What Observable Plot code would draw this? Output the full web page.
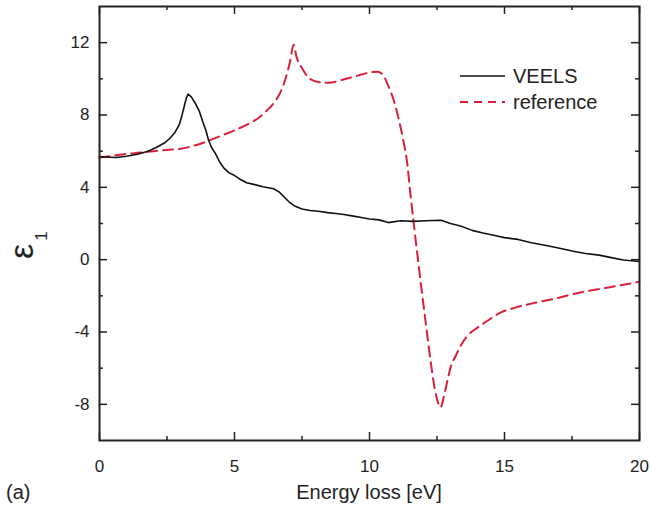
<!DOCTYPE html>
<html><head><meta charset="utf-8">
<script src="https://cdn.jsdelivr.net/npm/d3@7"></script>
<script src="https://cdn.jsdelivr.net/npm/@observablehq/plot@0.6"></script>
<style>body{margin:0;background:#fff} svg{display:block}</style>
</head><body><div id="chart"></div>
<script>
// VEELS (solid black)
const veelsX = [0, 0.2, 0.6, 1.0, 1.4, 1.8, 2.1, 2.4, 2.6, 2.8, 2.95, 3.05, 3.15, 3.22, 3.28, 3.4, 3.56, 3.7, 3.81, 3.95, 4.04, 4.15, 4.3, 4.45, 4.6, 4.8, 4.95, 5.2, 5.45, 5.75, 6.05, 6.45, 6.65, 6.85, 7.05, 7.25, 7.5, 7.8, 8.1, 8.45, 8.75, 9.05, 9.35, 9.7, 10.0, 10.35, 10.7, 11.15, 11.6, 12.1, 12.65, 13.0, 13.4, 13.8, 14.2, 14.6, 15.0, 15.5, 16.0, 16.5, 17.0, 17.5, 18.0, 18.5, 19.0, 19.4, 19.7, 20.0];
const veelsY = [5.7, 5.68, 5.65, 5.72, 5.83, 6.0, 6.2, 6.45, 6.7, 7.05, 7.45, 7.95, 8.55, 8.95, 9.15, 9.0, 8.62, 8.2, 7.7, 7.1, 6.6, 6.2, 5.85, 5.4, 5.08, 4.8, 4.7, 4.45, 4.25, 4.15, 4.03, 3.92, 3.75, 3.45, 3.15, 2.95, 2.8, 2.72, 2.68, 2.6, 2.55, 2.5, 2.42, 2.33, 2.25, 2.2, 2.05, 2.15, 2.12, 2.15, 2.18, 2.0, 1.85, 1.62, 1.47, 1.35, 1.22, 1.12, 0.94, 0.8, 0.65, 0.48, 0.34, 0.25, 0.1, -0.02, -0.06, -0.1];
// reference (red dashed)
const refX = [0, 0.5, 1.0, 1.5, 2.0, 2.5, 3.0, 3.5, 4.0, 4.5, 5.0, 5.5, 5.9, 6.2, 6.5, 6.7, 6.9, 7.05, 7.19, 7.3, 7.5, 7.75, 8.1, 8.5, 9.0, 9.5, 10.0, 10.3, 10.5, 10.7, 10.9, 11.07, 11.25, 11.4, 11.5, 11.65, 11.8, 11.95, 12.1, 12.26, 12.4, 12.55, 12.63, 12.75, 12.9, 13.0, 13.2, 13.4, 13.7, 14.0, 14.4, 14.85, 15.4, 16.0, 16.8, 17.8, 18.8, 20.0];
const refY = [5.65, 5.75, 5.85, 5.92, 6.0, 6.07, 6.13, 6.3, 6.55, 6.85, 7.15, 7.5, 7.85, 8.25, 8.75, 9.25, 10.06, 10.9, 11.88, 11.2, 10.6, 10.06, 9.83, 9.78, 9.95, 10.15, 10.35, 10.39, 10.2, 9.6, 8.8, 7.85, 6.6, 5.3, 3.85, 1.85, -0.05, -1.9, -3.7, -5.58, -7.0, -7.95, -8.18, -7.6, -6.6, -5.97, -5.3, -4.7, -4.1, -3.76, -3.35, -2.93, -2.65, -2.43, -2.18, -1.82, -1.55, -1.22];
// ticks
const xMajor = [0, 5, 10, 15, 20];
const xMinor = [2.5, 7.5, 12.5, 17.5];
const yMajor = [-8, -4, 0, 4, 8, 12];
const yMinor = [-6, -2, 2, 6, 10];
const seriesNames = ["VEELS", "reference"];

const W = 650, H = 508, mL = 99, mR = 11, mT = 6, mB = 68;
const innerW = W - mL - mR, innerH = H - mT - mB;
const font = "'Liberation Sans', Arial, Helvetica, sans-serif";
const RED = "#d8203a", INK = "#222";

const veels = veelsX.map((x, i) => ({x, y: veelsY[i]}));
const ref = refX.map((x, i) => ({x, y: refY[i]}));

const tk = {stroke: INK, strokeWidth: 1.5};
const fmt = d => String(d);
const chart = Plot.plot({
  width: W, height: H,
  marginLeft: mL, marginRight: mR, marginTop: mT, marginBottom: mB,
  style: {fontFamily: font, background: "#fff", color: INK},
  x: {domain: [0, 20]},
  y: {domain: [-10, 14]},
  marks: [
    Plot.line(ref, {x: "x", y: "y", stroke: RED, strokeWidth: 2, strokeDasharray: "10,6", curve: "monotone-x"}),
    Plot.line(veels, {x: "x", y: "y", stroke: "#111", strokeWidth: 1.6}),
    Plot.tickX(xMajor, {x: d => d, insetTop: innerH - 8, ...tk}),
    Plot.tickX(xMajor, {x: d => d, insetBottom: innerH - 8, ...tk}),
    Plot.tickX(xMinor, {x: d => d, insetTop: innerH - 4, ...tk}),
    Plot.tickX(xMinor, {x: d => d, insetBottom: innerH - 4, ...tk}),
    Plot.tickY(yMajor, {y: d => d, insetRight: innerW - 8, ...tk}),
    Plot.tickY(yMajor, {y: d => d, insetLeft: innerW - 8, ...tk}),
    Plot.tickY(yMinor, {y: d => d, insetRight: innerW - 4, ...tk}),
    Plot.tickY(yMinor, {y: d => d, insetLeft: innerW - 4, ...tk}),
    Plot.axisX(xMajor, {tickSize: 0, tickPadding: 19, fontSize: 17, label: null, fill: INK, tickFormat: fmt}),
    Plot.axisY(yMajor, {tickSize: 0, tickPadding: 10, fontSize: 17, label: null, fill: INK, tickFormat: fmt}),
    Plot.frame({stroke: INK, strokeWidth: 2})
  ]
});

const svg = d3.select(chart);
// x title
svg.append("text").attr("x", mL + innerW / 2).attr("y", 499)
  .attr("text-anchor", "middle").attr("font-size", 20).attr("fill", INK)
  .attr("font-family", font).text("Energy loss [eV]");
// panel label
svg.append("text").attr("x", 6).attr("y", 499).attr("text-anchor", "start")
  .attr("font-size", 20).attr("fill", INK).attr("font-family", font).text("(a)");
// y title epsilon_1
const yt = svg.append("text").attr("transform", "translate(33,259) rotate(-90)")
  .attr("text-anchor", "start")
  .attr("font-size", 34).attr("fill", INK).attr("font-family", font);
yt.append("tspan").text("ε");
yt.append("tspan").attr("font-size", 17).attr("dy", 14).attr("dx", 3).text("1");
// legend
const lg = svg.append("g").attr("font-family", font).attr("font-size", 20).attr("fill", INK)
  .attr("text-anchor", "start");
lg.append("line").attr("x1", 460).attr("x2", 505).attr("y1", 76).attr("y2", 76)
  .attr("stroke", "#111").attr("stroke-width", 1.6);
lg.append("text").attr("x", 513).attr("y", 83).text(seriesNames[0]);
lg.append("line").attr("x1", 460).attr("x2", 505).attr("y1", 102).attr("y2", 102)
  .attr("stroke", RED).attr("stroke-width", 2).attr("stroke-dasharray", "8,6");
lg.append("text").attr("x", 513).attr("y", 109).text(seriesNames[1]);

document.getElementById("chart").appendChild(chart);
</script></body></html>
